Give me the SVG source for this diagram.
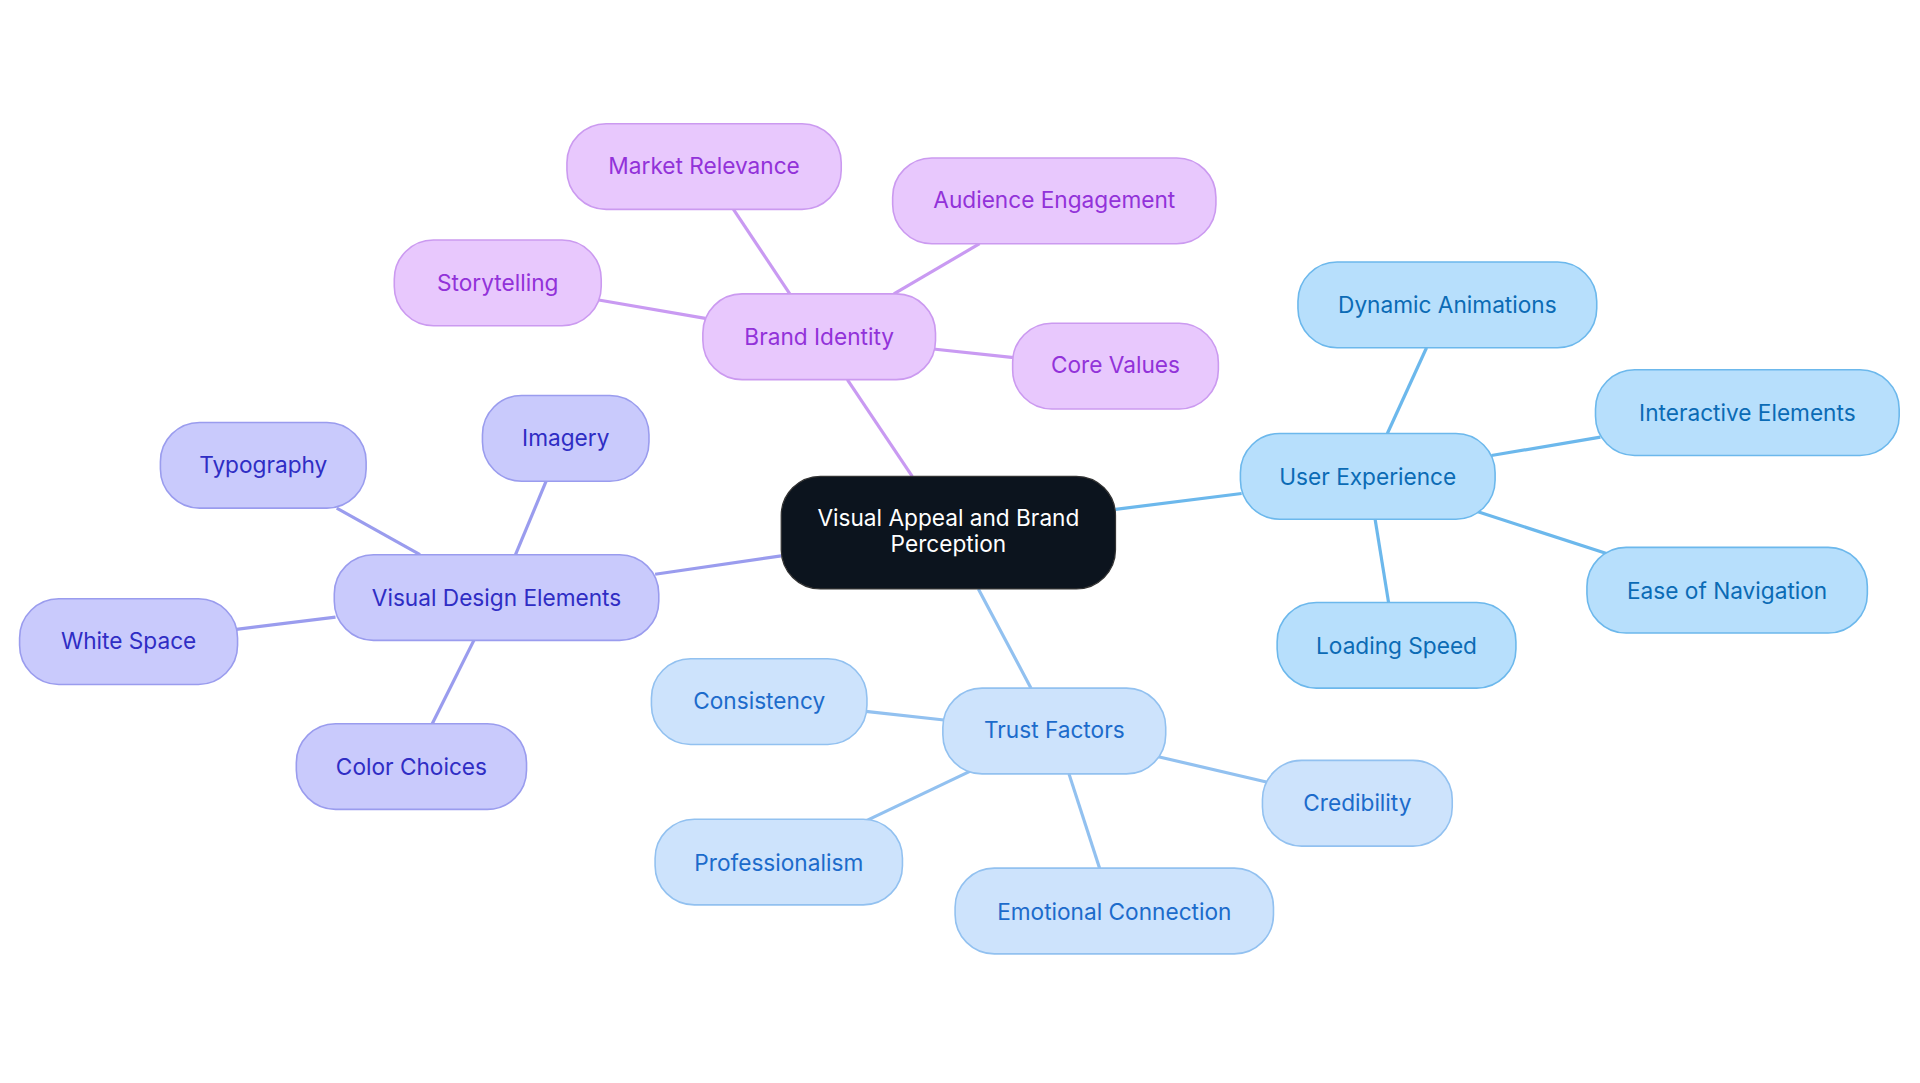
<svg xmlns="http://www.w3.org/2000/svg" width="1920" height="1083" viewBox="0 0 1920 1083">
<style>
text{font-family:Inter,"Open Sans","Liberation Sans",sans-serif;font-size:18.5px;text-anchor:middle;dominant-baseline:central}
.p rect{fill:#E8C8FD;stroke:#CB9AF0;stroke-width:1.3}.p text{fill:#9232D9}
.v rect{fill:#C9CAFC;stroke:#9A9CEE;stroke-width:1.3}.v text{fill:#2F2DC4}
.u rect{fill:#B7DFFC;stroke:#6CB8EC;stroke-width:1.3}.u text{fill:#0B6BB5}
.t rect{fill:#CDE3FC;stroke:#92C1F0;stroke-width:1.3}.t text{fill:#1C6BCB}
.e line{stroke-width:2.6}
</style>
<rect width="1920" height="1083" fill="#fff"/>
<g transform="scale(1.22449)">
<g id="connectors" class="e">
<line x1="745" y1="389" x2="692" y2="310" stroke="#C99AF2"/>
<line x1="645" y1="240" x2="599" y2="171" stroke="#C99AF2"/>
<line x1="730" y1="240" x2="800" y2="199" stroke="#C99AF2"/>
<line x1="576" y1="260" x2="489" y2="245" stroke="#C99AF2"/>
<line x1="762" y1="285" x2="828" y2="292" stroke="#C99AF2"/>
<line x1="911" y1="416" x2="1014" y2="403" stroke="#6CB8EC"/>
<line x1="1133" y1="354" x2="1165" y2="284" stroke="#6CB8EC"/>
<line x1="1218" y1="372" x2="1307" y2="357" stroke="#6CB8EC"/>
<line x1="1207" y1="418" x2="1312" y2="452" stroke="#6CB8EC"/>
<line x1="1123" y1="424" x2="1134" y2="492" stroke="#6CB8EC"/>
<line x1="638" y1="454" x2="535" y2="469" stroke="#9A9CEE"/>
<line x1="421" y1="453" x2="446" y2="393" stroke="#9A9CEE"/>
<line x1="343" y1="453" x2="275" y2="415" stroke="#9A9CEE"/>
<line x1="274" y1="504" x2="193" y2="514" stroke="#9A9CEE"/>
<line x1="387" y1="523" x2="353" y2="591" stroke="#9A9CEE"/>
<line x1="799" y1="481" x2="842" y2="562" stroke="#92C1F0"/>
<line x1="771" y1="588" x2="707" y2="581" stroke="#92C1F0"/>
<line x1="946" y1="618" x2="1036" y2="639" stroke="#92C1F0"/>
<line x1="792" y1="630" x2="708" y2="670" stroke="#92C1F0"/>
<line x1="873" y1="632" x2="898" y2="709" stroke="#92C1F0"/>
</g>
<g id="center"><rect x="638" y="389" width="273" height="92" rx="32" fill="#0C141E" stroke="#333" stroke-width="1"/><text x="774.5" y="423" fill="#fff">Visual Appeal and Brand</text><text x="774.5" y="444" fill="#fff">Perception</text></g>
<g id="brand" class="p"><rect x="574" y="240" width="190" height="70" rx="32"/><text x="669" y="275">Brand Identity</text></g>
<g id="market" class="p"><rect x="463" y="101" width="224" height="70" rx="32"/><text x="575" y="135">Market Relevance</text></g>
<g id="audience" class="p"><rect x="729" y="129" width="264" height="70" rx="32"/><text x="861" y="163">Audience Engagement</text></g>
<g id="story" class="p"><rect x="322" y="196" width="169" height="70" rx="32"/><text x="406.5" y="231">Storytelling</text></g>
<g id="core" class="p"><rect x="827" y="264" width="168" height="70" rx="32"/><text x="911" y="298">Core Values</text></g>
<g id="ux" class="u"><rect x="1013" y="354" width="208" height="70" rx="32"/><text x="1117" y="389">User Experience</text></g>
<g id="dyn" class="u"><rect x="1060" y="214" width="244" height="70" rx="32"/><text x="1182" y="249">Dynamic Animations</text></g>
<g id="inter" class="u"><rect x="1303" y="302" width="248" height="70" rx="32"/><text x="1427" y="337">Interactive Elements</text></g>
<g id="ease" class="u"><rect x="1296" y="447" width="229" height="70" rx="32"/><text x="1410.5" y="482">Ease of Navigation</text></g>
<g id="load" class="u"><rect x="1043" y="492" width="195" height="70" rx="32"/><text x="1140.5" y="527">Loading Speed</text></g>
<g id="vde" class="v"><rect x="273" y="453" width="265" height="70" rx="32"/><text x="405.5" y="488">Visual Design Elements</text></g>
<g id="imagery" class="v"><rect x="394" y="323" width="136" height="70" rx="32"/><text x="462" y="357">Imagery</text></g>
<g id="typo" class="v"><rect x="131" y="345" width="168" height="70" rx="32"/><text x="215" y="379">Typography</text></g>
<g id="white" class="v"><rect x="16" y="489" width="178" height="70" rx="32"/><text x="105" y="523">White Space</text></g>
<g id="color" class="v"><rect x="242" y="591" width="188" height="70" rx="32"/><text x="336" y="626">Color Choices</text></g>
<g id="trust" class="t"><rect x="770" y="562" width="182" height="70" rx="32"/><text x="861" y="596">Trust Factors</text></g>
<g id="consist" class="t"><rect x="532" y="538" width="176" height="70" rx="32"/><text x="620" y="572">Consistency</text></g>
<g id="cred" class="t"><rect x="1031" y="621" width="155" height="70" rx="32"/><text x="1108.5" y="655">Credibility</text></g>
<g id="prof" class="t"><rect x="535" y="669" width="202" height="70" rx="32"/><text x="636" y="704">Professionalism</text></g>
<g id="emo" class="t"><rect x="780" y="709" width="260" height="70" rx="32"/><text x="910" y="744">Emotional Connection</text></g>
</g>
</svg>
